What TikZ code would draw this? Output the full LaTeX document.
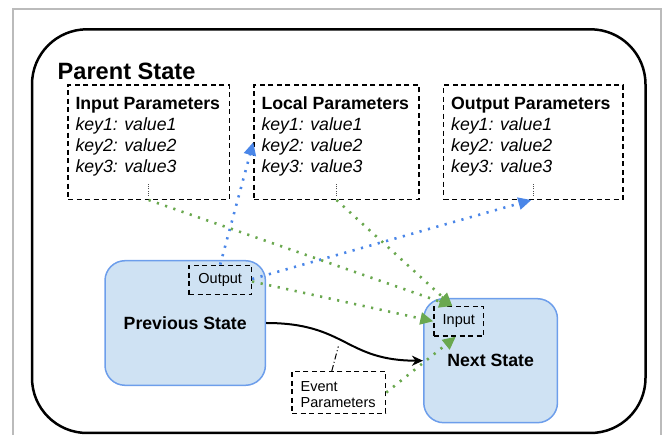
\documentclass[tikz,border=0pt]{standalone}
\usepackage{fontspec}
\setmainfont{Liberation Sans}
\usetikzlibrary{arrows.meta,calc}
\definecolor{stfill}{HTML}{CFE2F3}
\definecolor{stline}{HTML}{6D9EEB}
\definecolor{flowblue}{HTML}{4A86E8}
\definecolor{flowgreen}{HTML}{6AA84F}
\definecolor{framegray}{HTML}{BBBBBB}
\begin{document}
\begin{tikzpicture}[x=1pt,y=-1pt,
  dashbox/.style={draw=black, line width=1.4pt, dash pattern=on 5pt off 3.5pt, inner sep=0pt},
  statebox/.style={draw=stline, fill=stfill, line width=1.5pt, rounded corners=20pt,
    inner sep=0pt, font=\fontsize{17.7}{21}\selectfont\bfseries},
  smallbox/.style={dashbox, font=\fontsize{14.5}{16}\selectfont},
  paramtext/.style={anchor=base west, inner sep=0pt, font=\fontsize{17.7}{21}\selectfont},
  smalltext/.style={anchor=base west, inner sep=0pt, font=\fontsize{14.5}{16}\selectfont},
  vdots/.style={draw=black!70, line width=1.2pt, dash pattern=on 1pt off 1.2pt},
  flow/.style={line width=2.6pt, dash pattern=on 2.2pt off 6.5pt,
    -{Triangle[length=13pt,width=12pt]}},
  blueflow/.style={flow, flowblue},
  greenflow/.style={flow, flowgreen},
  transition/.style={draw=black, line width=2pt, -{Stealth[length=11pt,width=10pt,inset=3.5pt]}},
  tagline/.style={draw=black, line width=1pt, dash pattern=on 6pt off 2.5pt on 1pt off 2.5pt}
]
\useasboundingbox (0,0) rectangle (665,435);

% outer frame and parent state
\draw[framegray, line width=2pt] (12.5,9) rectangle (661,460);
\draw[black, line width=2.5pt, rounded corners=55pt] (32,29.3) rectangle (645.5,433);
\node[anchor=base west, inner sep=0pt, font=\fontsize{23.6}{28}\selectfont\bfseries]
  (parent) at (57.5,79.3) {Parent State};

% parameter boxes
\foreach \nm/\lx/\rx/\ttl in {inp/68/229.3/Input Parameters,
                               loc/254/419/Local Parameters,
                               outp/443.7/623/Output Parameters}{
  \node[dashbox, minimum width={\rx-\lx}, minimum height=114.3pt] (\nm) at ({(\lx+\rx)/2},142.15) {};
  \node[paramtext, font=\fontsize{17.7}{21}\selectfont\bfseries] (\nm-title) at (\lx+7.3,109.3) {\ttl};
  \foreach \k in {1,2,3}
    \node[paramtext, font=\fontsize{17.7}{21}\selectfont\itshape] (\nm-key\k) at (\lx+7.3,109.3+21*\k) {key\k: value\k};
  \draw[vdots] (\nm.south) ++(0,-4) -- ++(0,-13);
}

% states
\node[statebox, minimum width=160.4pt, minimum height=124.6pt] (prev) at (185.2,323) {Previous State};
\node[statebox, minimum width=133.7pt, minimum height=124pt] (next) at (490.6,360.7) {Next State};
\node[smallbox, minimum width=62.4pt, minimum height=29.4pt] (outsm) at (220.2,280) {Output};
\node[smallbox, minimum width=49.6pt, minimum height=29.3pt] (insm) at (458.8,321.3) {Input};

% event parameters
\node[dashbox, minimum width=93.6pt, minimum height=41.6pt] (event) at (338.8,392.5) {};
\node[smalltext] (event-l1) at (300.5,391.7) {Event};
\node[smalltext] (event-l2) at (300.5,407.5) {Parameters};

% transition
\draw[transition] (prev.east) .. controls +(80,0) and +(-78,0) .. (next.west);
\coordinate (evtag) at (338.3,346.5);
\draw[tagline] ($(event.north)+(-7,0)$) -- (evtag);

% data flow
\draw[blueflow] (outsm.north) -- (loc.west);
\draw[blueflow] ($(outsm.east)+(0,-1)$) -- ($(outp.south)+(-2,0)$);
\draw[greenflow] (inp.south) -- ($(insm.north)+(-6.5,0)$);
\draw[greenflow] (loc.south) -- ($(insm.north)+(-6.5,0)$);
\draw[greenflow] ($(outsm.east)+(0,1.5)$) -- (insm.west);
\draw[greenflow] (event.east) -- ($(insm.south)+(-3,0)$);
\end{tikzpicture}
\end{document}
